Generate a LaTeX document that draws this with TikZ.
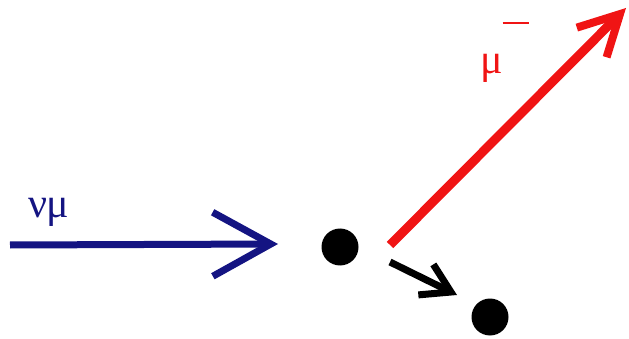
\documentclass[tikz,border=0pt]{standalone}
\usepackage{fontspec}
\setmainfont{Liberation Serif}
\usetikzlibrary{arrows.meta}
\definecolor{nublue}{RGB}{20,20,130}
\definecolor{mured}{RGB}{240,20,20}
\begin{document}
\begin{tikzpicture}[x=1pt,y=-1pt,
  dot/.style={circle,fill=black,inner sep=0pt,minimum size=37pt},
  lbl/.style={inner sep=0pt,font=\fontsize{42}{42}\selectfont}]
\useasboundingbox (0,0) rectangle (629,339);
\node[dot] (v) at (340,247) {};
\node[dot] (n) at (490,317) {};
\coordinate (nustart) at (10,245);
\coordinate (nuend) at (278,244);
\coordinate (mustart) at (390,245);
\coordinate (muend) at (626,8);
\coordinate (pstart) at (390,262);
\coordinate (pend) at (457,295);
\draw[nublue,line width=7pt,-{Straight Barb[length=58pt,width=64pt,line width=7pt]}] (nustart) -- (nuend);
\draw[mured,line width=9pt,-{Straight Barb[length=40pt,width=42pt,line width=8pt]}] (mustart) -- (muend);
\draw[black,line width=7pt,-{Straight Barb[length=28pt,width=34pt,line width=7pt]}] (pstart) -- (pend);
\node[lbl,text=nublue,anchor=base west] (nulbl) at (28,218) {ν\kern-1pt μ};
\node[lbl,text=mured,anchor=base west] (mulbl) at (480,74) {μ\raisebox{50pt}{\rule{26pt}{2pt}}};
\end{tikzpicture}
\end{document}
